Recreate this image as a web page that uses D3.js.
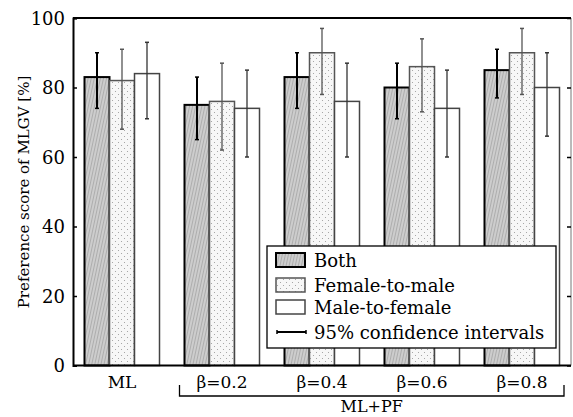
<!DOCTYPE html>
<html>
<head>
<meta charset="utf-8">
<script src="https://cdn.jsdelivr.net/npm/d3@7"></script>
<style>
  body { margin: 0; background: #fff; }
  svg text { font-family: "DejaVu Serif", "Liberation Serif", serif !important; fill: #000; }
</style>
</head>
<body>
<svg id="chart" width="573" height="417"></svg>
<script>
// --------------------------
// DATA
// --------------------------
const groups = ["ML", "β=0.2", "β=0.4", "β=0.6", "β=0.8"];
const series = ["Both", "Female-to-male", "Male-to-female"];

const both = [83, 75, 83, 80, 85];
const f2m = [82, 76, 90, 86, 90];
const m2f = [84, 74, 76, 74, 80];

const bothLo = [74, 65, 74, 71, 77];
const bothHi = [90, 83, 90, 87, 91];
const f2mLo = [68, 62, 78, 73, 78];
const f2mHi = [91, 87, 97, 94, 97];
const m2fLo = [71, 60, 60, 60, 66];
const m2fHi = [93, 85, 87, 85, 90];

const yTicks = [0, 20, 40, 60, 80, 100];

const values = [both, f2m, m2f];
const lows = [bothLo, f2mLo, m2fLo];
const highs = [bothHi, f2mHi, m2fHi];

// --------------------------
// SETUP
// --------------------------
const svg = d3.select("#chart");
const margin = { top: 18, right: 2, bottom: 51.5, left: 73 };
const width = 573, height = 417;

const x = d3.scaleBand()
    .domain(groups)
    .range([margin.left, width - margin.right])
    .paddingInner(0.25)
    .paddingOuter(0.115);

const xs = d3.scaleBand()
    .domain(series)
    .range([0, x.bandwidth()]);

const y = d3.scaleLinear()
    .domain([0, 100])
    .range([height - margin.bottom, margin.top]);

// patterns
const defs = svg.append("defs");
const hatch = defs.append("pattern")
    .attr("id", "hatch")
    .attr("patternUnits", "userSpaceOnUse")
    .attr("width", 3).attr("height", 3)
    .attr("patternTransform", "rotate(12)");
hatch.append("rect").attr("width", 3).attr("height", 3).attr("fill", "#cdcdcd");
hatch.append("line")
    .attr("x1", 0.5).attr("y1", 0).attr("x2", 0.5).attr("y2", 3)
    .attr("stroke", "#a4a4a4").attr("stroke-width", 0.8);

const dots = defs.append("pattern")
    .attr("id", "dots")
    .attr("patternUnits", "userSpaceOnUse")
    .attr("width", 6).attr("height", 6);
dots.append("rect").attr("width", 6).attr("height", 6).attr("fill", "#f7f7f7");
dots.append("circle").attr("cx", 1.5).attr("cy", 1.5).attr("r", 0.55).attr("fill", "#999");
dots.append("circle").attr("cx", 4.5).attr("cy", 4.5).attr("r", 0.55).attr("fill", "#999");

const fills = ["url(#hatch)", "url(#dots)", "#fff"];
const strokes = ["#000", "#555", "#444"];
const strokeW = [2, 1.5, 1.5];
const errColor = ["#000", "#555", "#333"];
const errW = [2, 1.3, 1.3];

// --------------------------
// BARS
// --------------------------
series.forEach((s, si) => {
    const g = svg.append("g");
    g.selectAll("rect")
        .data(groups)
        .enter().append("rect")
        .attr("x", d => x(d) + xs(s))
        .attr("y", (d, i) => y(values[si][i]))
        .attr("width", xs.bandwidth())
        .attr("height", (d, i) => y(0) - y(values[si][i]))
        .attr("fill", fills[si])
        .attr("stroke", strokes[si])
        .attr("stroke-width", strokeW[si]);
});

// error bars
series.forEach((s, si) => {
    const g = svg.append("g")
        .attr("stroke", errColor[si])
        .attr("stroke-width", errW[si]);
    groups.forEach((d, i) => {
        const cx = x(d) + xs(s) + xs.bandwidth() / 2;
        g.append("line")
            .attr("x1", cx).attr("x2", cx)
            .attr("y1", y(lows[si][i])).attr("y2", y(highs[si][i]));
        [lows[si][i], highs[si][i]].forEach(v => {
            g.append("line")
                .attr("x1", cx - 2).attr("x2", cx + 2)
                .attr("y1", y(v)).attr("y2", y(v))
                .attr("stroke-width", 1.5);
        });
    });
});

// --------------------------
// AXES / FRAME
// --------------------------
const x0 = margin.left, x1 = width - margin.right;

svg.append("line")
    .attr("x1", x0).attr("x2", x1).attr("y1", y(100)).attr("y2", y(100))
    .attr("stroke", "#000").attr("stroke-width", 2);
svg.append("line")
    .attr("x1", x1).attr("x2", x1).attr("y1", y(100)).attr("y2", y(0))
    .attr("stroke", "#777").attr("stroke-width", 1);

const yAxis = svg.append("g")
    .attr("transform", `translate(${x0},0)`)
    .call(d3.axisLeft(y).tickValues(yTicks).tickSize(-4).tickPadding(8));
yAxis.select(".domain").attr("stroke-width", 2);
yAxis.selectAll(".tick line").attr("stroke-width", 1.5);
yAxis.selectAll("text")
    .style("font-size", "18px")
    .attr("dy", "0.36em");

svg.append("g")
    .attr("transform", `translate(${x1},0)`)
    .call(d3.axisRight(y).tickValues(yTicks).tickSize(-4).tickFormat(""))
    .call(g => g.select(".domain").remove())
    .selectAll(".tick line").attr("stroke-width", 1.5);

// baseline
svg.append("line")
    .attr("x1", x0).attr("x2", x1).attr("y1", y(0)).attr("y2", y(0))
    .attr("stroke", "#000").attr("stroke-width", 2);

// x labels
svg.append("g")
    .selectAll("text")
    .data(groups)
    .enter().append("text")
    .attr("x", d => x(d) + x.bandwidth() / 2)
    .attr("y", 388)
    .attr("text-anchor", "middle")
    .style("font-size", "17px")
    .text(d => d);

// bracket for ML+PF
const bx0 = x(groups[1]) - 5, bx1 = width - 9;
svg.append("path")
    .attr("d", `M${bx0},385V396H${bx1}V385`)
    .attr("fill", "none")
    .attr("stroke", "#000")
    .attr("stroke-width", 1.3);
svg.append("text")
    .attr("x", (bx0 + bx1) / 2)
    .attr("y", 412)
    .attr("text-anchor", "middle")
    .style("font-size", "16px")
    .text("ML+PF");

// y title
svg.append("text")
    .attr("transform", `translate(29,192) rotate(-90)`)
    .attr("text-anchor", "middle")
    .style("font-size", "15px")
    .text("Preference score of MLGV [%]");

// --------------------------
// LEGEND
// --------------------------
const legend = svg.append("g").attr("transform", "translate(267,246)");
legend.append("rect")
    .attr("width", 289).attr("height", 102)
    .attr("fill", "#fff").attr("stroke", "#000").attr("stroke-width", 1.3);

const rowTop = [7, 32, 54];
series.forEach((s, si) => {
    const row = legend.append("g").attr("transform", `translate(9,${rowTop[si]})`);
    row.append("rect")
        .attr("width", 29).attr("height", 14)
        .attr("fill", fills[si])
        .attr("stroke", strokes[si])
        .attr("stroke-width", si === 0 ? 2 : 1.5);
    row.append("text")
        .attr("x", 38).attr("y", 14)
        .style("font-size", "18px")
        .text(s);
});
const ci = legend.append("g").attr("transform", "translate(9,86)");
ci.append("line").attr("x1", 1).attr("x2", 30).attr("stroke", "#000").attr("stroke-width", 2);
ci.append("line").attr("x1", 1).attr("x2", 1).attr("y1", -2).attr("y2", 2).attr("stroke", "#000").attr("stroke-width", 1.5);
ci.append("line").attr("x1", 30).attr("x2", 30).attr("y1", -2).attr("y2", 2).attr("stroke", "#000").attr("stroke-width", 1.5);
ci.append("text")
    .attr("x", 38).attr("y", 7)
    .style("font-size", "18px")
    .text("95% confidence intervals");
</script>
</body>
</html>
